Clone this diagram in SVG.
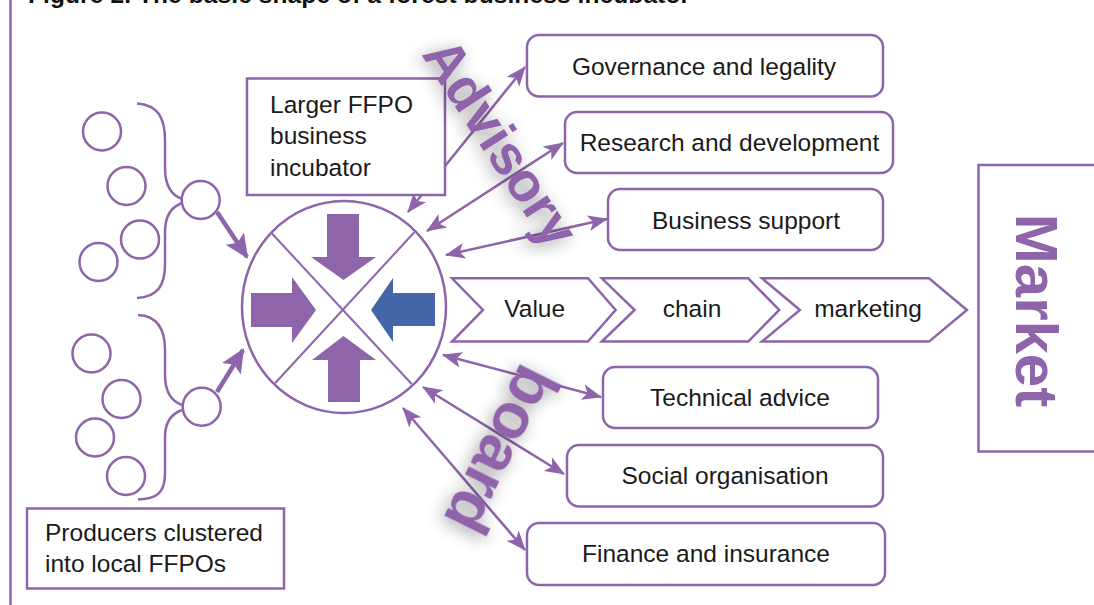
<svg xmlns="http://www.w3.org/2000/svg" width="1094" height="605" viewBox="0 0 1094 605">
<defs>
<style>
.ln{fill:none;stroke:#8e64aa;stroke-width:2.5}
.box{fill:#fff;stroke:#8e64aa;stroke-width:2.5}
.txt{font-family:"Liberation Sans",Arial,Helvetica,sans-serif;font-size:24.5px;fill:#1a1a1a}
.mid{text-anchor:middle}
.big{font-family:"Liberation Sans",Arial,Helvetica,sans-serif;font-weight:bold;fill:#8e64aa;text-anchor:middle}
.conn{fill:none;stroke:#8e64aa;stroke-width:2.5;marker-start:url(#ah);marker-end:url(#ah)}
.thick{fill:none;stroke:#8e64aa;stroke-width:4.5;marker-end:url(#ahb)}
.blk{fill:#8e64aa}
</style>
<marker id="ah" viewBox="0 0 20 16" refX="19" refY="8" markerWidth="20" markerHeight="16" markerUnits="userSpaceOnUse" orient="auto-start-reverse">
<path d="M0,0 L20,8 L0,16 L5,8 Z" fill="#8e64aa"/>
</marker>
<marker id="ahb" viewBox="0 0 24 22" refX="22" refY="11" markerWidth="24" markerHeight="22" markerUnits="userSpaceOnUse" orient="auto">
<path d="M0,0 L24,11 L0,22 L5,11 Z" fill="#8e64aa"/>
</marker>
<filter id="glow" x="-40%" y="-40%" width="180%" height="180%">
<feGaussianBlur in="SourceAlpha" stdDeviation="8"/>
<feOffset dx="-3" dy="3" result="b"/>
<feFlood flood-color="#000" flood-opacity="0.4"/>
<feComposite in2="b" operator="in" result="s"/>
<feMerge><feMergeNode in="s"/><feMergeNode in="SourceGraphic"/></feMerge>
</filter>
</defs>
<rect width="1094" height="605" fill="#fff"/>
<text x="28" y="3" font-family="'Liberation Sans',Arial,sans-serif" font-weight="bold" font-size="24.5" fill="#111" textLength="662">Figure 2. The basic shape of a forest business incubator</text>
<line x1="10.5" y1="0" x2="10.5" y2="605" stroke="#8e64aa" stroke-width="2.5"/>

<g id="connectors">
<line class="conn" x1="408" y1="212" x2="525" y2="67"/>
<line class="conn" x1="427" y1="231" x2="563" y2="143"/>
<line class="conn" x1="446" y1="255" x2="607" y2="219"/>
<line class="conn" x1="443" y1="355" x2="601" y2="397"/>
<line class="conn" x1="423" y1="387" x2="564" y2="474"/>
<line class="conn" x1="403" y1="408" x2="525" y2="550"/>
<line class="thick" x1="217" y1="212" x2="247" y2="257"/>
<line class="thick" x1="217" y1="392" x2="243" y2="350"/>
</g>

<g id="cluster1">
<circle class="ln" cx="102" cy="131.5" r="19"/>
<circle class="ln" cx="126.5" cy="186" r="19"/>
<circle class="ln" cx="140" cy="239.5" r="19"/>
<circle class="ln" cx="98.5" cy="262" r="19"/>
<path class="ln" d="M137,103.5 C158,105 165,118 165,140 L165,168 C165,185 171,195 182,199"/>
<path class="ln" d="M182,203 C171,207 165,216 165,232 L165,264 C165,285 158,297 137,298"/>
<circle class="ln" cx="200.7" cy="200" r="19"/>
</g>

<g id="cluster2">
<circle class="ln" cx="91.5" cy="353.5" r="19"/>
<circle class="ln" cx="121.5" cy="399" r="19"/>
<circle class="ln" cx="95" cy="437.5" r="19"/>
<circle class="ln" cx="126" cy="476" r="19"/>
<path class="ln" d="M138,315 C158,316 165,330 165,350 L165,375 C165,392 171,401 182,405"/>
<path class="ln" d="M182,410 C171,414 165,422 165,437 L165,473 C165,492 158,499 138,499.5"/>
<circle class="ln" cx="201.7" cy="406.7" r="19"/>
</g>

<g id="producers">
<rect class="box" x="27" y="508.5" width="257" height="80"/>
<text class="txt" x="45" y="540.5">Producers clustered</text>
<text class="txt" x="45" y="571.7">into local FFPOs</text>
</g>

<g id="incubator">
<ellipse class="ln" cx="344" cy="307" rx="102" ry="106"/>
<line x1="271.7" y1="233.3" x2="411.7" y2="384" stroke="#8e64aa" stroke-width="2"/>
<line x1="414.3" y1="232.3" x2="275" y2="383.3" stroke="#8e64aa" stroke-width="2"/>
<polygon class="blk" points="327,214 359,214 359,257 376,257 343.5,280 311,257 327,257"/>
<polygon class="blk" points="251,293 292,293 292,277 316,310 292,343 292,327 251,327"/>
<polygon fill="#4565a9" points="435,293 393,293 393,278 371,310 393,342 393,326 435,326"/>
<polygon class="blk" points="343.5,336 376,360 360,360 360,402 328,402 328,360 312,360"/>
</g>

<g id="larger-ffpo">
<rect class="box" x="247" y="78.5" width="198" height="116.5"/>
<text class="txt" x="270" y="112.5">Larger FFPO</text>
<text class="txt" x="270" y="144">business</text>
<text class="txt" x="270" y="176">incubator</text>
</g>

<g id="governance">
<rect class="box" x="527" y="35" width="356" height="61.5" rx="12"/>
<text class="txt mid" x="704" y="74.5">Governance and legality</text>
</g>
<g id="research">
<rect class="box" x="565" y="112" width="328" height="61" rx="12"/>
<text class="txt mid" x="729.5" y="151">Research and development</text>
</g>
<g id="business">
<rect class="box" x="608" y="189" width="275" height="61" rx="12"/>
<text class="txt mid" x="746" y="228.5">Business support</text>
</g>
<g id="technical">
<rect class="box" x="603" y="367" width="275" height="61" rx="12"/>
<text class="txt mid" x="740" y="406">Technical advice</text>
</g>
<g id="social">
<rect class="box" x="567" y="445" width="316" height="61.5" rx="12"/>
<text class="txt mid" x="725" y="484">Social organisation</text>
</g>
<g id="finance">
<rect class="box" x="527" y="523" width="358" height="62" rx="12"/>
<text class="txt mid" x="706" y="562">Finance and insurance</text>
</g>

<g id="value-chain">
<polygon class="box" points="452,278.3 588,278.3 615.6,310 588,341.6 452,341.6 483,310"/>
<text class="txt mid" x="534.7" y="317">Value</text>
<polygon class="box" points="601.8,278.3 748.2,278.3 779.2,310 748.2,341.6 601.8,341.6 634.6,310"/>
<text class="txt mid" x="692" y="317">chain</text>
<polygon class="box" points="762,278.3 929,278.3 966.9,310 929,341.6 762,341.6 799.9,310"/>
<text class="txt mid" x="868" y="317">marketing</text>
</g>

<g id="market">
<rect class="box" x="978.5" y="165" width="120" height="286.5"/>
<text class="big" font-size="60" transform="translate(1016,310.5) rotate(90)">Market</text>
</g>

<g id="advisory-board" filter="url(#glow)">
<text class="big" font-size="55" transform="translate(485,153) rotate(57)">Advisory</text>
<text class="big" font-size="64" transform="translate(482,440) rotate(116.5)">board</text>
</g>
</svg>
